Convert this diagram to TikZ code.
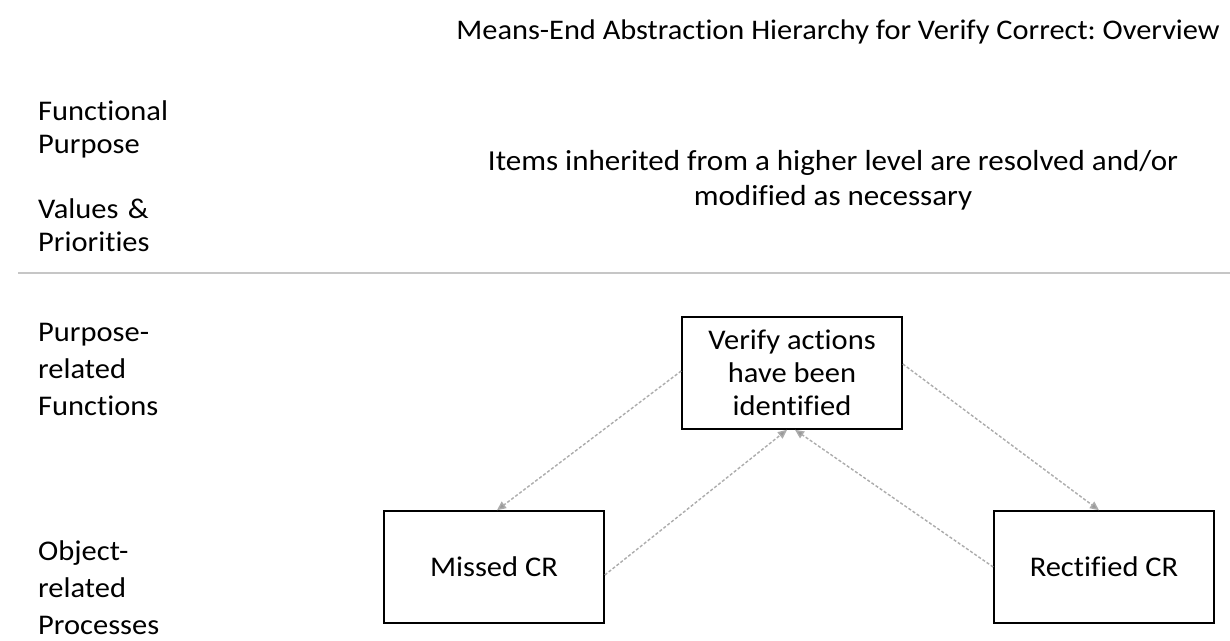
\documentclass[tikz,border=0pt]{standalone}
\usepackage{fontspec}
\setmainfont[Ligatures=NoCommon,FakeStretch=1.07]{Carlito}
\usetikzlibrary{arrows.meta}
\frenchspacing
\tikzset{
  lbl/.style={anchor=west,align=left,font=\fontsize{28.5}{33}\selectfont,inner sep=0pt},
  lblb/.style={anchor=west,align=left,font=\fontsize{28.5}{37}\selectfont,inner sep=0pt},
  box/.style={draw=black,line width=1.6pt,minimum width=220pt,minimum height=112pt,align=center,font=\fontsize{28.5}{33}\selectfont,inner sep=2pt},
  conn/.style={draw=gray!65,line width=1.4pt,dash pattern=on 3pt off 2pt,-{Triangle[length=9pt,width=8pt,fill=gray!80]}},
}
\begin{document}
\begin{tikzpicture}[x=1pt,y=-1pt]
\useasboundingbox[fill=white] (0,0) rectangle (1230,640);
\node[font=\fontsize{28.4}{30}\selectfont,inner sep=0pt] (title) at (838,32) {Means-End Abstraction Hierarchy for Verify Correct: Overview};
\node[lbl,text width=200pt] (fp) at (38,129) {Functional\\Purpose};
\node[lbl,text width=200pt] (vp) at (38,225) {Values \&\\Priorities};
\node[font=\fontsize{29}{35}\selectfont,align=center,inner sep=0pt] (items) at (833,180) {Items inherited from a higher level are resolved and/or\\modified as necessary};
\coordinate (l0) at (18,273);
\coordinate (l1) at (1230,273);
\draw[gray!45,line width=1.5pt] (l0) -- (l1);
\node[lblb,text width=200pt] (prf) at (38,369) {Purpose-\\related\\Functions};
\node[lblb,text width=200pt] (orp) at (38,588) {Object-\\related\\Processes};
\node[box] (verify) at (792,373) {Verify actions\\have been\\identified};
\node[box] (missed) at (494,567) {Missed CR};
\node[box] (rect) at (1104,567) {Rectified CR};
\draw[conn] ([yshift=2pt]verify.west) -- ([xshift=3pt]missed.north);
\draw[conn] ([yshift=-8pt]missed.east) -- ([xshift=-5pt]verify.south);
\draw[conn] ([yshift=0pt]rect.west) -- ([xshift=3pt]verify.south);
\draw[conn] ([yshift=9pt]verify.east) -- ([xshift=-5pt]rect.north);
\end{tikzpicture}
\end{document}
